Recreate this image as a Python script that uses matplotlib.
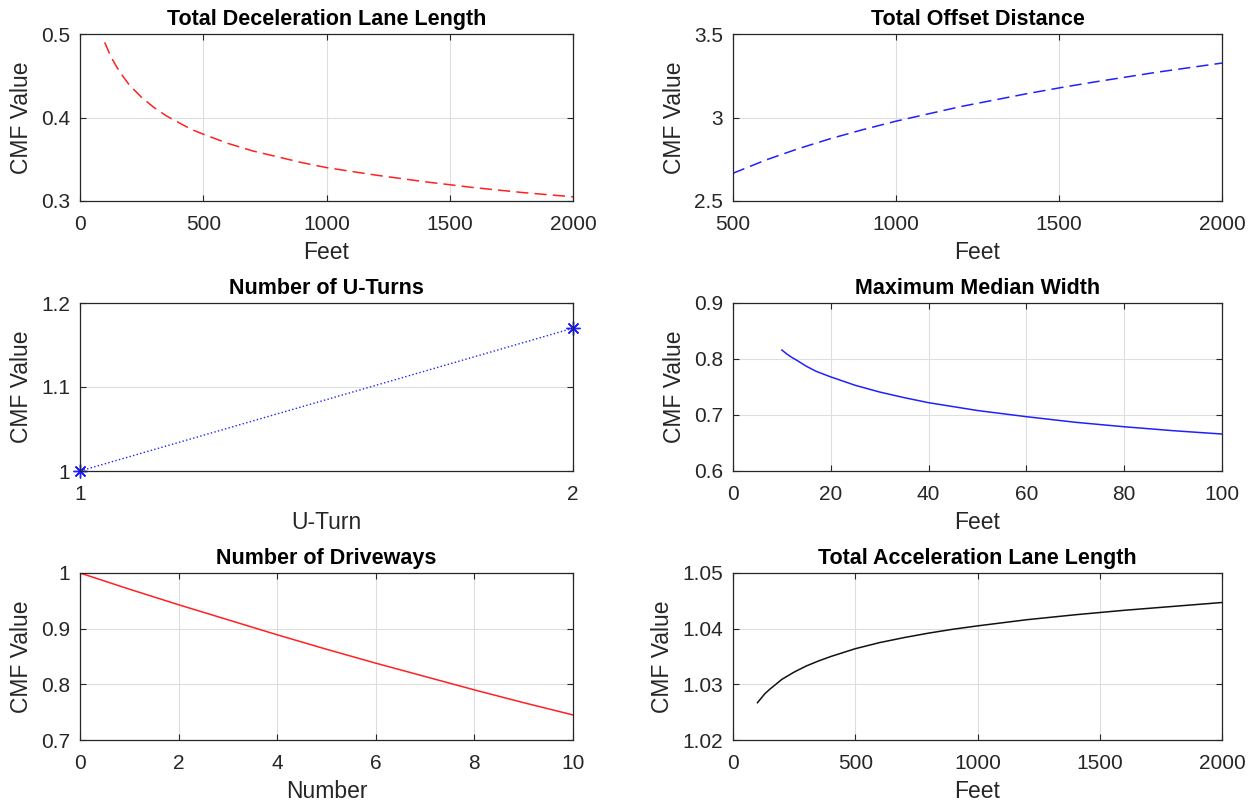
import matplotlib
matplotlib.use("Agg")
import matplotlib.pyplot as plt

# -------------------------------
# Données
# -------------------------------

decel_x = [100, 125, 150, 175, 200, 250, 300, 350, 400, 450, 500, 600, 700, 800,
           900, 1000, 1200, 1400, 1600, 1800, 2000]
decel_y = [0.490, 0.473, 0.460, 0.449, 0.439, 0.424, 0.412, 0.402, 0.394, 0.386,
           0.380, 0.369, 0.360, 0.353, 0.346, 0.340, 0.331, 0.323, 0.316, 0.310,
           0.305]

offset_x = [500, 600, 700, 800, 900, 1000, 1200, 1400, 1500, 1600, 1800, 2000]
offset_y = [2.666, 2.745, 2.813, 2.874, 2.928, 2.978, 3.066, 3.142, 3.177, 3.210,
            3.271, 3.326]

uturn_x = [1, 2]
uturn_y = [1.0, 1.17]

median_x = [10, 11, 12, 13, 15, 17, 20, 25, 30, 35, 40, 50, 60, 70, 80, 90, 100]
median_y = [0.816, 0.809, 0.803, 0.798, 0.787, 0.778, 0.768, 0.753, 0.741, 0.731,
            0.722, 0.708, 0.697, 0.687, 0.679, 0.672, 0.666]

drive_x = [0, 1, 2, 3, 4, 5, 6, 7, 8, 9, 10]
drive_y = [1.0, 0.971, 0.943, 0.916, 0.889, 0.863, 0.838, 0.814, 0.790, 0.767, 0.745]

accel_x = [100, 115, 130, 150, 175, 200, 250, 300, 350, 400, 500, 600, 700, 800,
           900, 1000, 1200, 1400, 1600, 1800, 2000]
accel_y = [1.0267, 1.0275, 1.0283, 1.0291, 1.0300, 1.0309, 1.0322, 1.0333, 1.0342,
           1.0350, 1.0364, 1.0375, 1.0384, 1.0392, 1.0399, 1.0405, 1.0416, 1.0425,
           1.0433, 1.0440, 1.0447]

DARK = "#262626"

plt.rcParams["font.family"] = ["Liberation Sans", "DejaVu Sans"]

# -------------------------------
# Fonctions utilitaires
# -------------------------------

def style_axes(ax, title, xlabel, xlim, ylim, xticks, yticks, yfmt):
    """Applique le style type MATLAB à un axe."""
    ax.set_xlim(*xlim)
    ax.set_ylim(*ylim)
    ax.set_xticks(xticks)
    ax.set_yticks(yticks)
    ax.set_yticklabels([yfmt(v) for v in yticks])
    ax.set_xticklabels([f"{v:g}" for v in xticks])
    ax.set_title(title, fontsize=15.5, fontweight="bold", pad=6.5, color="black")
    ax.set_xlabel(xlabel, fontsize=16.5, color=DARK, labelpad=5)
    ax.set_ylabel("CMF Value", fontsize=16.5, color=DARK, labelpad=6)
    ax.grid(True, color="#dedede", linewidth=0.8)
    ax.set_axisbelow(True)
    ax.tick_params(direction="in", length=4, width=0.8, colors=DARK,
                   labelsize=15, top=True, right=True)
    ax.tick_params(axis="x", pad=10)
    ax.tick_params(axis="y", pad=7)
    for sp in ax.spines.values():
        sp.set_color(DARK)
        sp.set_linewidth(0.9)


def fmt_g(v):
    return f"{v:g}"


# -------------------------------
# Figure
# -------------------------------

fig = plt.figure(figsize=(12.6, 8.11), dpi=100)

W, H = 1260, 811
def add_ax(x0, x1, y0, y1):
    return fig.add_axes([x0 / W, 1 - y1 / H, (x1 - x0) / W, (y1 - y0) / H])

ax1 = add_ax(80, 573, 34, 201)
ax2 = add_ax(733, 1222, 34, 201)
ax3 = add_ax(80, 573, 303, 471)
ax4 = add_ax(733, 1222, 303, 471)
ax5 = add_ax(80, 573, 573, 740)
ax6 = add_ax(733, 1222, 573, 740)

ax1.plot(decel_x, decel_y, color="#ff2020", linewidth=1.1, dashes=(8, 4))
style_axes(ax1, "Total Deceleration Lane Length", "Feet", (0, 2000), (0.3, 0.5),
           [0, 500, 1000, 1500, 2000], [0.3, 0.4, 0.5], fmt_g)

ax2.plot(offset_x, offset_y, color="#2020ff", linewidth=1.1, dashes=(8, 4))
style_axes(ax2, "Total Offset Distance", "Feet", (500, 2000), (2.5, 3.5),
           [500, 1000, 1500, 2000], [2.5, 3.0, 3.5], fmt_g)

ax3.plot(uturn_x, uturn_y, color="#2020ff", linewidth=1.0, linestyle=":",
         marker=(8, 2, 0), markersize=10, markeredgewidth=1.0, clip_on=False)
style_axes(ax3, "Number of U-Turns", "U-Turn", (1, 2), (1.0, 1.2),
           [1, 2], [1.0, 1.1, 1.2], fmt_g)

ax4.plot(median_x, median_y, color="#2020ff", linewidth=1.1)
style_axes(ax4, "Maximum Median Width", "Feet", (0, 100), (0.6, 0.9),
           [0, 20, 40, 60, 80, 100], [0.6, 0.7, 0.8, 0.9], fmt_g)

ax5.plot(drive_x, drive_y, color="#ff2020", linewidth=1.1)
style_axes(ax5, "Number of Driveways", "Number", (0, 10), (0.7, 1.0),
           [0, 2, 4, 6, 8, 10], [0.7, 0.8, 0.9, 1.0], fmt_g)

ax6.plot(accel_x, accel_y, color="#111111", linewidth=1.1)
style_axes(ax6, "Total Acceleration Lane Length", "Feet", (0, 2000), (1.02, 1.05),
           [0, 500, 1000, 1500, 2000], [1.02, 1.03, 1.04, 1.05],
           lambda v: f"{v:.2f}")

fig.savefig("out.png", dpi=100, facecolor="white")
